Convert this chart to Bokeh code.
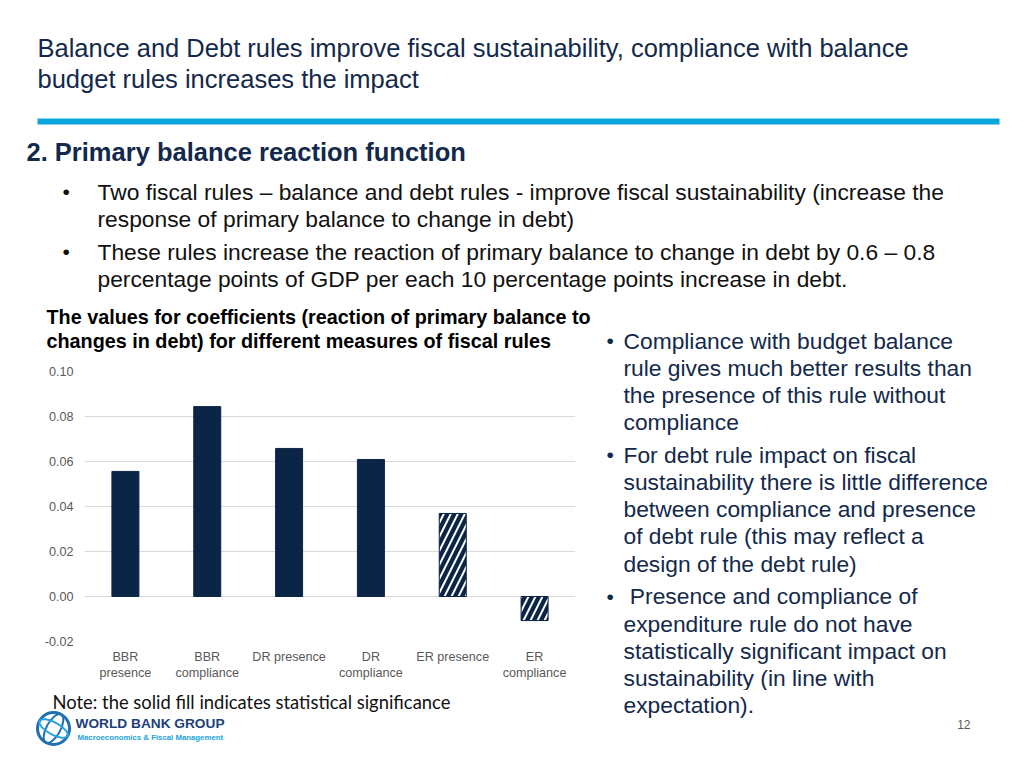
from bokeh.plotting import figure
from bokeh.models import (ColumnDataSource, FactorRange, Range1d,
                          NumeralTickFormatter, SingleIntervalTicker)
from bokeh.layouts import column, row
from bokeh.core.properties import value
from bokeh.embed import file_html
from bokeh.resources import INLINE

# ---------------- data ----------------
categories = ["BBR\npresence", "BBR\ncompliance", "DR presence", "DR\ncompliance",
              "ER presence", "ER\ncompliance"]
coefficients = [0.0556, 0.0844, 0.0658, 0.0609, 0.0369, -0.0107]
significant = [True, True, True, True, False, False]
y_ticks_step = 0.02

title_lines = ["Balance and Debt rules improve fiscal sustainability, compliance with balance",
               "budget rules increases the impact"]
section_heading = "2. Primary balance reaction function"
top_bullets = [
    ["Two fiscal rules \u2013 balance and debt rules - improve fiscal sustainability (increase the",
     "response of primary balance to change in debt)"],
    ["These rules increase the reaction of primary balance to change in debt by 0.6 \u2013 0.8",
     "percentage points of GDP per each 10 percentage points increase in debt."],
]
chart_title = ["The values for coefficients (reaction of primary balance to",
               "changes in debt) for different measures of fiscal rules"]
right_bullets = [
    ["Compliance with budget balance", "rule gives much better results than",
     "the presence of this rule without", "compliance"],
    ["For debt rule impact on fiscal", "sustainability there is little difference",
     "between compliance and presence", "of debt rule (this may reflect a",
     "design of the debt rule)"],
    ["\u00a0Presence and compliance of", "expenditure rule do not have",
     "statistically significant impact on", "sustainability (in line with",
     "expectation)."],
]
note_text = "Note: the solid fill indicates statistical significance"
page_number = "12"
logo_name = "WORLD BANK GROUP"
logo_sub = "Macroeconomics & Fiscal Management"

NAVY = "#0b2547"
TEXT_NAVY = "#13294b"
FONT = "Liberation Sans"
PAGE_W = 1010


def canvas(x0, y0, w, h):
    f = figure(width=w, height=h, x_range=Range1d(x0, x0 + w), y_range=Range1d(y0 + h, y0),
               min_border=0, min_border_left=0, min_border_right=0, min_border_top=0,
               min_border_bottom=0, x_axis_location=None, y_axis_location=None,
               toolbar_location=None, output_backend="svg", frame_align=False)
    f.outline_line_color = None
    f.grid.visible = False
    f.background_fill_color = "white"
    f.border_fill_color = "white"
    return f


def txt(figs, X, Y, s, size, color, bold=False, font=FONT, align="left"):
    for f in figs:
        f.text(x=[X], y=[Y], text=[s], text_font=value(font), text_font_size=f"{size}px",
               text_color=color, text_font_style="bold" if bold else "normal",
               text_baseline="middle", text_align=align)


HEAD_H = 356
MID_Y0, MID_H = 356, 334
FOOT_Y0, FOOT_H = 690, 70

header = canvas(0, 0, PAGE_W, HEAD_H)
right = canvas(600, MID_Y0, PAGE_W - 600, MID_H)
footer = canvas(0, FOOT_Y0, PAGE_W, FOOT_H)


def panel_for(Y):
    if Y < HEAD_H:
        return [header]
    if Y < FOOT_Y0:
        return [right]
    return [footer]


# ---------------- header ----------------
txt([header], 37, 47, title_lines[0], 25.5, TEXT_NAVY)
txt([header], 37, 78, title_lines[1], 25.5, TEXT_NAVY)
header.quad(left=[37], right=[999], top=[118], bottom=[124], fill_color="#0aa5de",
            line_color=None)
txt([header], 26, 151, section_heading, 25.5, TEXT_NAVY, bold=True)
yy = 191
for bullet in top_bullets:
    txt([header], 62, yy, "\u2022", 21, "#111111")
    for line in bullet:
        txt([header], 97, yy, line, 22.8, "#111111")
        yy += 27
    yy += 6

txt([header], 46, 316, chart_title[0], 19.8, "#000000", bold=True)
txt([header], 46, 340, chart_title[1], 19.8, "#000000", bold=True)

# ---------------- right text ----------------
yy = 340
for bullet in right_bullets:
    txt(panel_for(yy), 606, yy, "\u2022", 21, TEXT_NAVY)
    for line in bullet:
        txt(panel_for(yy), 623, yy, line, 22.8, TEXT_NAVY)
        yy += 27.2
    yy += 5.5

# ---------------- chart ----------------
src = ColumnDataSource(dict(
    cat=categories,
    val=coefficients,
    hatch=[" " if s else "/" for s in significant],
))
FRAME_L, FRAME_R, FRAME_T, FRAME_B = 84, 575, 371, 641
CH_W = 600
chart = figure(width=CH_W, height=MID_H, output_backend="svg", toolbar_location=None,
               x_range=FactorRange(*categories, range_padding=0),
               y_range=Range1d(-0.02, 0.10), frame_align=False,
               min_border_left=FRAME_L, min_border_right=CH_W - FRAME_R,
               min_border_top=FRAME_T - MID_Y0, min_border_bottom=MID_Y0 + MID_H - FRAME_B)
chart.outline_line_color = None
chart.background_fill_color = "white"
chart.border_fill_color = "white"
chart.vbar(x="cat", top="val", bottom=0, width=0.33, source=src,
           fill_color=NAVY, line_color=NAVY, line_width=1,
           hatch_pattern="hatch", hatch_color="white", hatch_scale=14, hatch_weight=2)
chart.xgrid.grid_line_color = None
chart.ygrid.grid_line_color = "#d9d9d9"
chart.yaxis.ticker = SingleIntervalTicker(interval=y_ticks_step)
chart.yaxis.formatter = NumeralTickFormatter(format="0.00")
for ax in (chart.xaxis, chart.yaxis):
    ax.axis_line_color = None
    ax.major_tick_line_color = None
    ax.minor_tick_line_color = None
    ax.major_tick_out = 0
    ax.major_tick_in = 0
    ax.minor_tick_out = 0
    ax.major_label_text_color = "#595959"
    ax.major_label_text_font = FONT
    ax.major_label_text_font_size = "12.6px"
chart.yaxis.major_label_standoff = 11
chart.xaxis.major_label_standoff = 8

# ---------------- footer ----------------
txt([footer], 52, 701, note_text, 18.4, "#111111", font="Lato")
footer.circle(x=[53], y=[728], radius=16, fill_color=None, line_color="#1d6fb1", line_width=3)
footer.ellipse(x=[53], y=[728], width=14, height=32, fill_color=None,
               line_color="#1d6fb1", line_width=2, angle=-0.5)
footer.ellipse(x=[53], y=[728], width=32, height=12, fill_color=None,
               line_color="#2aa3dc", line_width=2, angle=-0.5)
txt([footer], 75, 723, logo_name, 13.7, "#1c3f7a", bold=True)
txt([footer], 77, 737, logo_sub, 7.8, "#22a3dc", bold=True)
txt([footer], 970, 724, page_number, 12, "#595959", align="right")

layout = column(header, row(chart, right, spacing=0), footer, spacing=0)
open("out.html", "w").write(file_html(layout, INLINE))
